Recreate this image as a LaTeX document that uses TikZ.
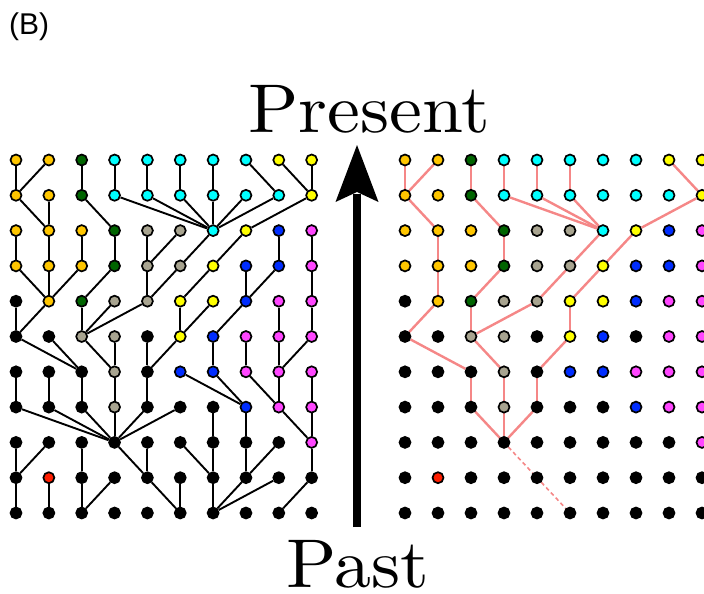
\documentclass[tikz,border=0pt]{standalone}
\usepackage{fontspec}
\newfontfamily\labelfont{Liberation Sans}
\newfontfamily\bigfont[Extension=.otf]{lmroman10-regular}
\usetikzlibrary{backgrounds}

% node fill colours, one letter per kind
\definecolor{cY}{RGB}{255,198,0}
\definecolor{cW}{RGB}{255,255,0}
\definecolor{cG}{RGB}{0,100,0}
\definecolor{cC}{RGB}{0,255,255}
\definecolor{cA}{RGB}{168,164,144}
\definecolor{cB}{RGB}{0,45,255}
\definecolor{cM}{RGB}{255,70,255}
\definecolor{cR}{RGB}{255,30,0}
\definecolor{cK}{RGB}{0,0,0}
\definecolor{lineage}{RGB}{245,135,135}

\tikzset{
  dot/.style={circle, draw=black, line width=1.7pt, inner sep=0pt, minimum size=11pt},
  link/.style={black, line width=1.9pt},
  trace/.style={lineage, line width=2.4pt},
  bigword/.style={font=\bigfont\fontsize{69}{72}\selectfont, anchor=base, inner sep=0pt},
}
% slightly widened lettering for the two time labels
\newcommand\wideword[1]{\scalebox{1.07}[1]{#1}}

\begin{document}
\begin{tikzpicture}[x=1pt, y=-1pt]
\useasboundingbox (0,0) rectangle (704,594);

% ---------- left lattice: colours ----------
\foreach \r/\cl in {
  0/{Y,Y,G,C,C,C,C,C,W,W},
  1/{Y,Y,G,C,C,C,C,C,C,W},
  2/{Y,Y,Y,G,A,A,C,W,B,M},
  3/{Y,Y,Y,G,A,A,W,B,B,M},
  4/{K,Y,G,A,A,W,W,B,M,M},
  5/{K,K,A,A,K,W,B,M,M,M},
  6/{K,K,K,A,K,B,B,M,M,M},
  7/{K,K,K,A,K,K,K,B,M,M},
  8/{K,K,K,K,K,K,K,K,K,M},
  9/{K,R,K,K,K,K,K,K,K,K},
  10/{K,K,K,K,K,K,K,K,K,K}}
{
  \foreach \col [count=\c from 0] in \cl
    \node[dot, fill=c\col] (L-\r-\c) at ({16+32.85*\c}, {160+35.3*\r}) {};
}

% ---------- right lattice: colours ----------
\foreach \r/\cl in {
  0/{Y,Y,G,C,C,C,C,C,W,W},
  1/{Y,Y,G,C,C,C,C,C,C,W},
  2/{Y,Y,Y,G,A,A,C,W,B,M},
  3/{Y,Y,Y,G,A,A,W,B,B,M},
  4/{K,Y,G,A,A,W,W,B,M,M},
  5/{K,K,A,A,K,W,B,K,M,M},
  6/{K,K,K,A,K,B,B,M,M,M},
  7/{K,K,K,A,K,K,K,B,M,M},
  8/{K,K,K,K,K,K,K,K,K,M},
  9/{K,R,K,K,K,K,K,K,K,K},
  10/{K,K,K,K,K,K,K,K,K,K}}
{
  \foreach \col [count=\c from 0] in \cl
    \node[dot, fill=c\col] (R-\r-\c) at ({405+33*\c}, {160+35.3*\r}) {};
}

\begin{scope}[on background layer]
  % full genealogy on the left: parent column of each node, one row down
  \foreach \r/\pl in {
    0/{0,0,2,3,4,5,6,8,9,9},
    1/{1,1,3,6,6,6,6,6,6,7},
    2/{0,1,2,3,4,4,5,6,8,9},
    3/{1,1,1,2,4,4,5,7,7,9},
    4/{0,0,2,2,2,5,5,6,8,9},
    5/{2,2,3,3,4,4,6,7,8,8},
    6/{0,1,2,3,4,7,7,8,8,9},
    7/{3,3,3,3,3,3,6,7,9,9},
    8/{0,0,2,4,4,6,6,7,7,9},
    9/{0,1,2,2,5,5,6,6,6,8}}
  {
    \pgfmathtruncatemacro\rn{\r+1}
    \foreach \p [count=\c from 0] in \pl
      \draw[link] (L-\r-\c) -- (L-\rn-\p);
  }

  % sampled ancestry on the right
  \foreach \r/\c/\p in {
    0/0/0, 0/1/0, 0/2/2, 0/3/3, 0/4/4, 0/5/5, 0/8/9,
    1/0/1, 1/2/3, 1/3/6, 1/4/6, 1/5/6, 1/9/7,
    2/1/1, 2/3/3, 2/6/5, 2/7/6,
    3/1/1, 3/3/2, 3/5/4, 3/6/5,
    4/1/0, 4/2/2, 4/4/2, 4/5/5,
    5/0/2, 5/2/3, 5/5/4,
    6/2/2, 6/3/3, 6/4/4,
    7/2/3, 7/3/3, 7/4/3}
  {
    \pgfmathtruncatemacro\rn{\r+1}
    \draw[trace] (R-\r-\c) -- (R-\rn-\p);
  }
  \draw[lineage, line width=1.6pt, dash pattern=on 4pt off 3pt]
    (R-8-3) -- (R-9-4) -- (R-10-5);
\end{scope}

% time arrow
\coordinate (tail) at (357,527);
\coordinate (neck) at (357,194);
\coordinate (tip)  at (357,145);
\coordinate (barbL) at (335.5,202);
\coordinate (barbR) at (378.5,202);
\coordinate (notch) at (357,192);
\draw[line width=8pt] (tail) -- (neck);
\fill (tip) -- (barbL) -- (notch) -- (barbR) -- cycle;

% labels
\node[bigword] (present) at (369.5,132) {\wideword{Present}};
\node[bigword] (past) at (357.5,587) {\wideword{Past}};
\node[font=\labelfont\fontsize{30}{34}\selectfont, anchor=base west, inner sep=0pt] (tag) at (9,35) {(B)};
\end{tikzpicture}
\end{document}
